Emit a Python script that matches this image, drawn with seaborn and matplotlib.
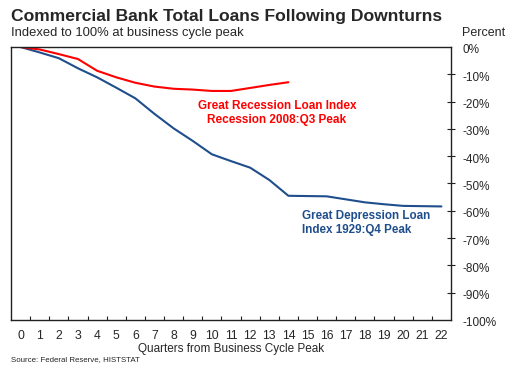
import matplotlib
matplotlib.use("Agg")
import matplotlib.pyplot as plt
import matplotlib.transforms as mtransforms
import seaborn as sns
import pandas as pd
import numpy as np
from matplotlib.ticker import FixedLocator

quarters = list(range(23))
depression = [0.0, -2.0, -4.1, -7.8, -11.1, -14.9, -18.8, -24.5, -29.8, -34.4, -39.3,
              -41.8, -44.2, -48.7, -54.5, -54.6, -54.7, -55.8, -56.9, -57.6, -58.2, -58.3, -58.4]
recession_q = list(range(15))
recession = [0.0, -0.9, -2.6, -4.4, -8.7, -11.1, -13.1, -14.5, -15.3, -15.6, -16.1,
             -16.1, -15.0, -13.9, -12.9]
y_ticks = list(range(0, -101, -10))
y_labels = [f"{v}%" for v in y_ticks]
x_labels = [str(q) for q in quarters]

RED = "#FF0000"
BLUE = "#1F4E8C"

sns.set_style("ticks")
plt.rcParams['font.family'] = ['Liberation Sans', 'DejaVu Sans']

df = pd.concat([
    pd.DataFrame({"q": quarters, "v": depression, "s": "Depression"}),
    pd.DataFrame({"q": recession_q, "v": recession, "s": "Recession"}),
])

fig = plt.figure(figsize=(5.1, 3.65), dpi=100)
ax = fig.add_axes([11/510, 1-320/365, 440/510, 273/365])

sns.lineplot(data=df, x="q", y="v", hue="s", palette={"Depression": BLUE, "Recession": RED},
             linewidth=1.5, legend=False, ax=ax)

ax.set_xlim(-0.5, 22.5)
ax.set_ylim(-100, 0)
ax.set_xlabel("Quarters from Business Cycle Peak", fontsize=8.5, labelpad=1)
ax.set_ylabel("")

for sp in ax.spines.values():
    sp.set_visible(True)
    sp.set_color("#222222")
    sp.set_linewidth(1.0)

ax.xaxis.set_major_locator(FixedLocator(quarters))
ax.set_xticklabels(x_labels, fontsize=8.8)
ax.xaxis.set_minor_locator(FixedLocator([q + 0.5 for q in quarters[:-1]]))
ax.tick_params(axis='x', which='major', length=0, pad=7)
ax.tick_params(axis='x', which='minor', direction='in', length=3, width=0.8, color="#222222")

ax.yaxis.tick_right()
ax.set_yticks(y_ticks)
ax.set_yticklabels(y_labels)
ax.tick_params(axis='y', which='major', right=True, left=False, labelright=True, labelleft=False,
               direction='inout', length=6, width=0.8, color="#222222", labelsize=8.5, pad=5)
ax.yaxis.set_minor_locator(FixedLocator(y_ticks[1:-1]))
ax.tick_params(axis='y', which='minor', left=True, right=False, direction='in', length=3,
               width=0.8, color="#222222")
major_ticks = ax.yaxis.get_major_ticks()
for t in (major_ticks[0], major_ticks[-1]):
    t.tick2line.set_visible(False)
shift = mtransforms.ScaledTranslation(0, -2/100, fig.dpi_scale_trans)
for lab in ax.get_yticklabels():
    lab.set_transform(lab.get_transform() + shift)

fig.text(11/510, 1-16/365, "Commercial Bank Total Loans Following Downturns", fontsize=12.6,
         fontweight='bold', va='center', ha='left')
fig.text(11/510, 1-33/365, "Indexed to 100% at business cycle peak", fontsize=9.4,
         va='center', ha='left')
fig.text(462/510, 1-33/365, "Percent", fontsize=9, va='center', ha='left')
fig.text(11/510, 1-359.5/365, "Source: Federal Reserve, HISTSTAT", fontsize=5.7,
         va='center', ha='left')

ax.text(13.4, -24.2, "Great Recession Loan Index\nRecession 2008:Q3 Peak", color=RED,
        fontsize=8.5, fontweight='bold', ha='center', va='center', linespacing=1.15)
ax.text(14.7, -64.5, "Great Depression Loan\nIndex 1929:Q4 Peak", color=BLUE,
        fontsize=8.4, fontweight='bold', ha='left', va='center', linespacing=1.15)

fig.savefig("out.png", dpi=100)
